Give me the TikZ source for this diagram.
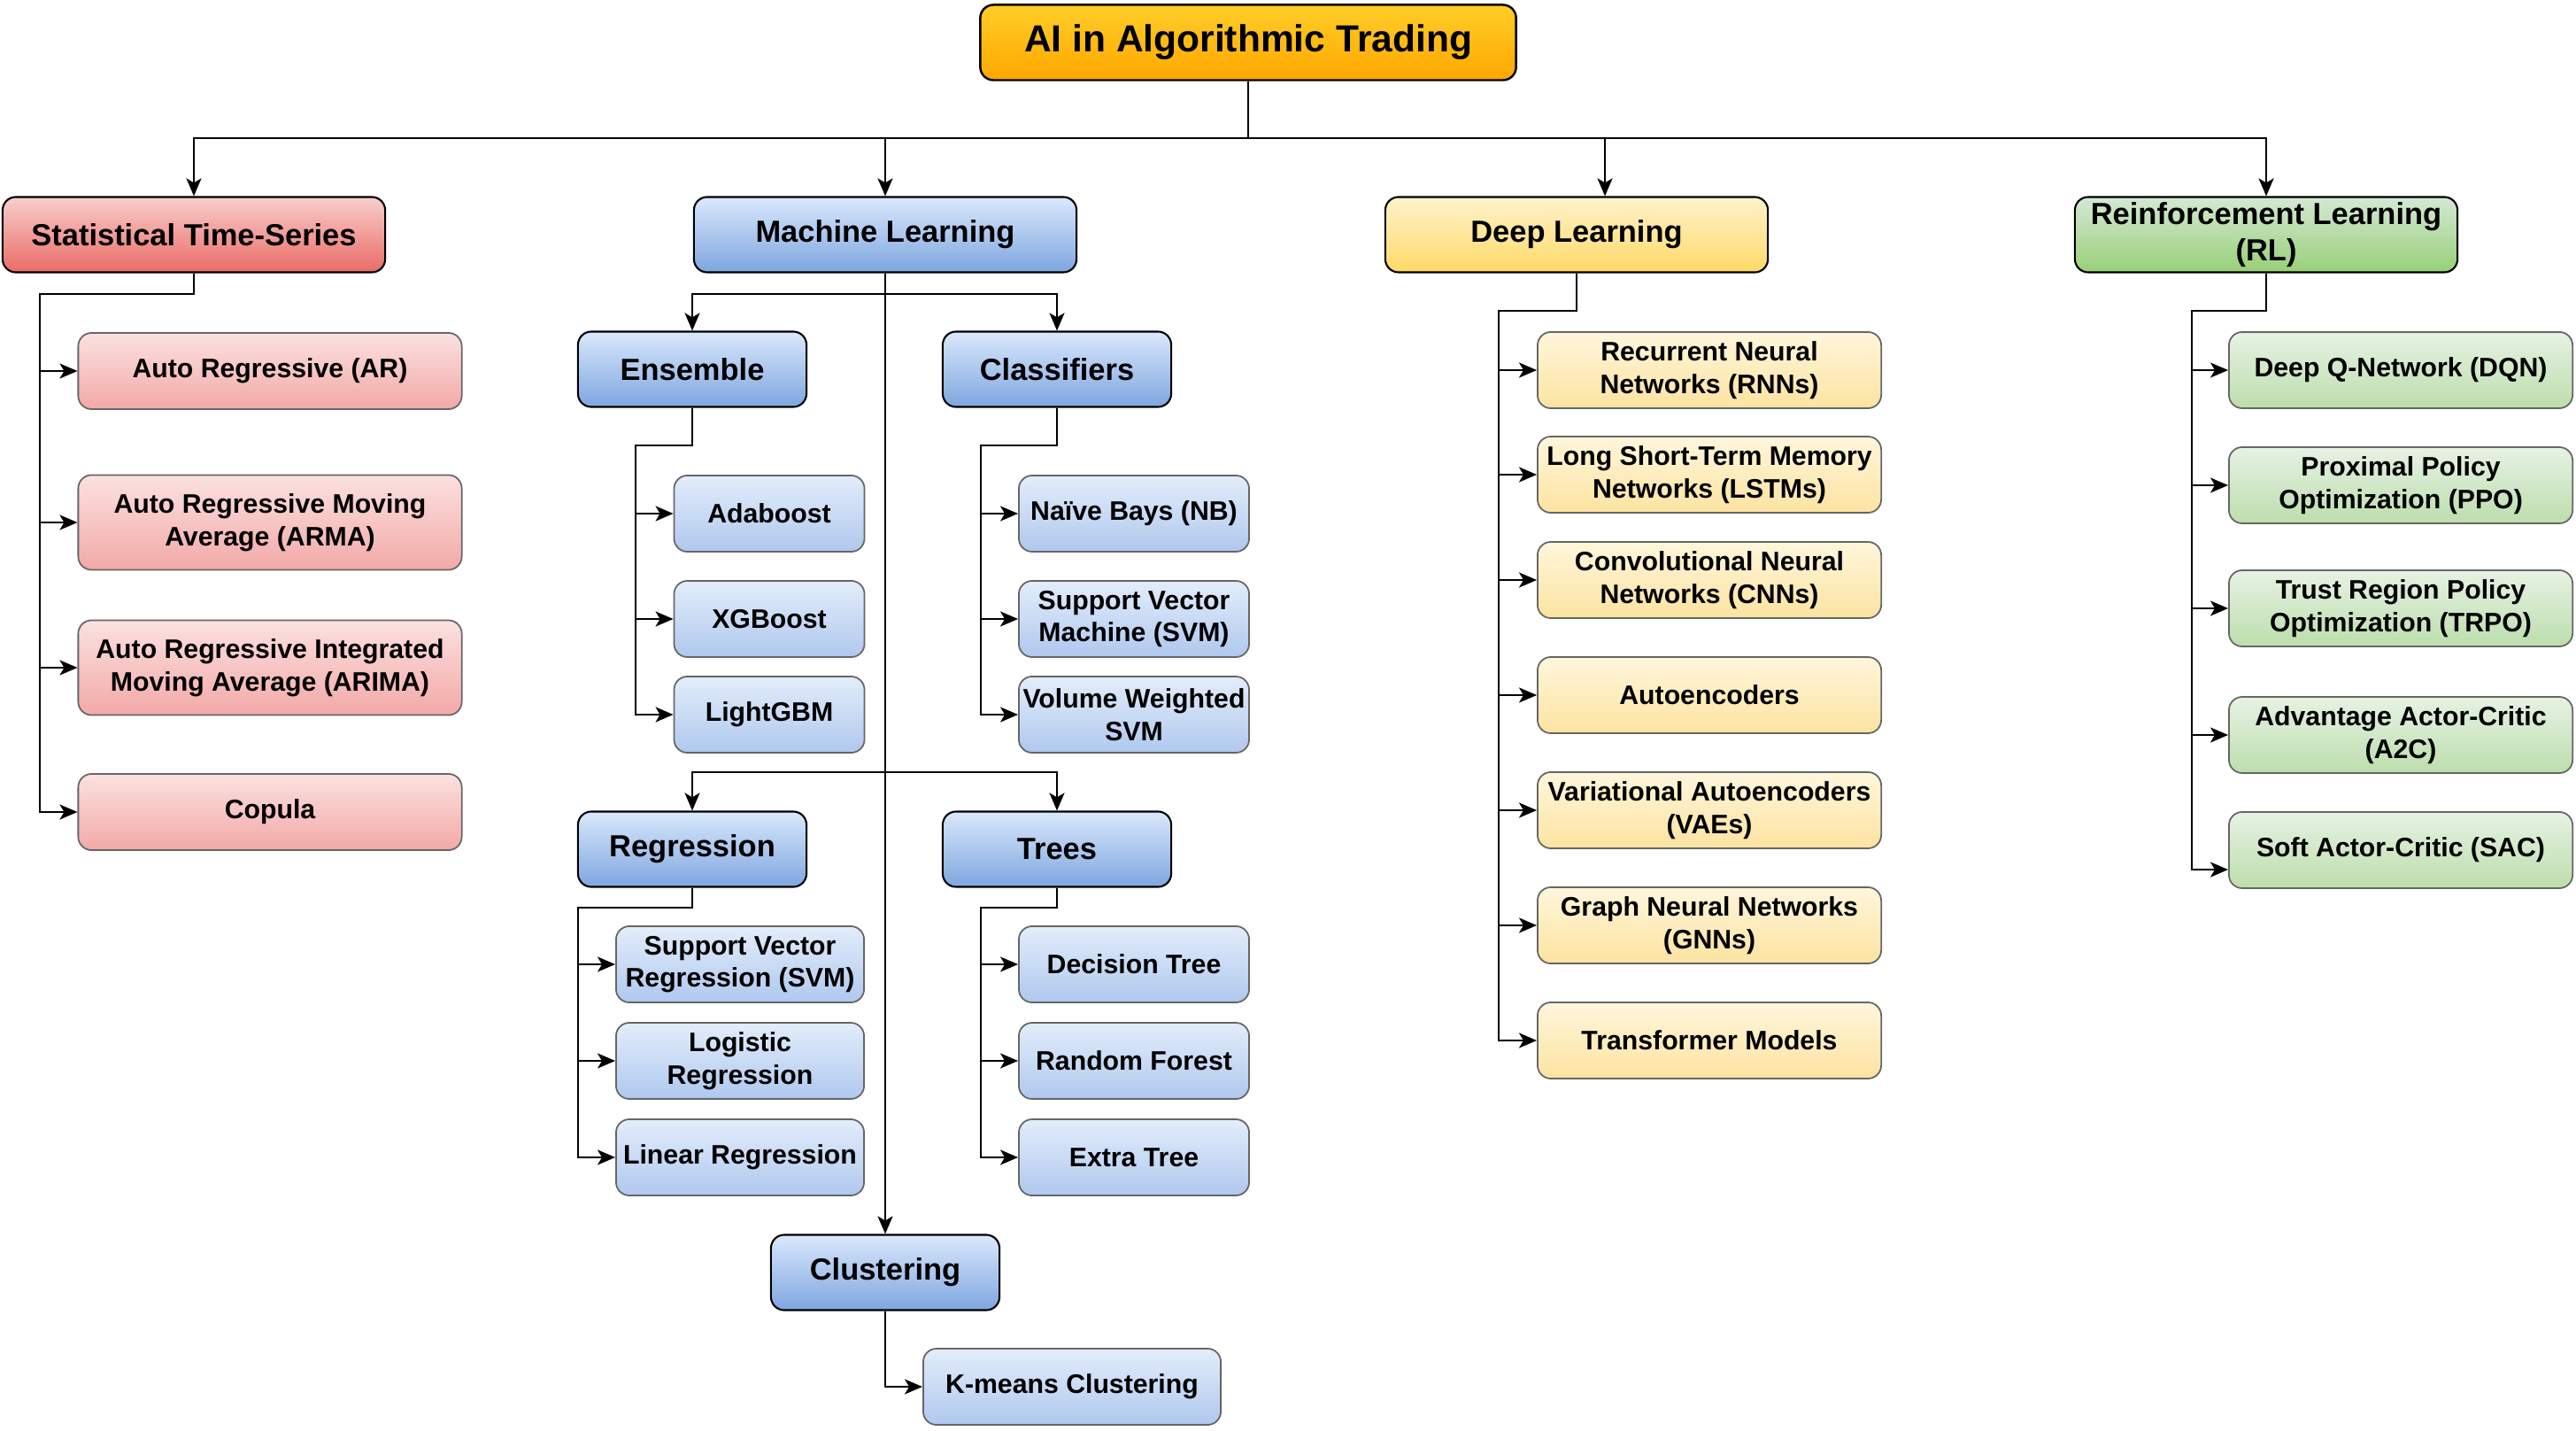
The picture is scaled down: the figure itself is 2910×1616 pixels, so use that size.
\documentclass[tikz,border=0pt]{standalone}
\usepackage{fontspec}
\setmainfont{Liberation Sans}
\usepackage{tikz}
\usetikzlibrary{arrows.meta}
\definecolor{rootTop}{HTML}{FFCD28}
\definecolor{rootBot}{HTML}{FFA800}
\definecolor{statTop}{HTML}{F8CECC}
\definecolor{statBot}{HTML}{EA6B66}
\definecolor{statLeafTop}{HTML}{FBE1E0}
\definecolor{statLeafBot}{HTML}{F2A9A7}
\definecolor{mlTop}{HTML}{DAE8FC}
\definecolor{mlBot}{HTML}{7EA6E0}
\definecolor{mlLeafTop}{HTML}{E3EDFB}
\definecolor{mlLeafBot}{HTML}{AFC8EE}
\definecolor{dlTop}{HTML}{FFF2CC}
\definecolor{dlBot}{HTML}{FFD966}
\definecolor{dlLeafTop}{HTML}{FFF6DC}
\definecolor{dlLeafBot}{HTML}{FCE3A0}
\definecolor{rlTop}{HTML}{D5E8D4}
\definecolor{rlBot}{HTML}{97D077}
\definecolor{rlLeafTop}{HTML}{E6F2E4}
\definecolor{rlLeafBot}{HTML}{BCDEAC}
\tikzstyle{box}=[rectangle,rounded corners=0.15cm,inner sep=1pt,align=center,text centered]
\tikzstyle{root}=[box,minimum width=6.05cm,minimum height=0.85cm,draw=black,line width=0.7pt,
top color=rootTop,bottom color=rootBot,font=\fontsize{12.1}{14}\selectfont\bfseries]
\tikzstyle{head}=[box,minimum width=4.32cm,minimum height=0.85cm,draw=black,line width=0.6pt,
font=\fontsize{9.8}{11.6}\selectfont\bfseries]
\tikzstyle{leaf}=[box,minimum height=0.86cm,draw=black!60,line width=0.5pt,
font=\fontsize{8.6}{10.4}\selectfont\bfseries]
\tikzstyle{stat}=[head,top color=statTop,bottom color=statBot]
\tikzstyle{ml}=[head,top color=mlTop,bottom color=mlBot]
\tikzstyle{mlsub}=[ml,minimum width=2.58cm]
\tikzstyle{dl}=[head,top color=dlTop,bottom color=dlBot]
\tikzstyle{rl}=[head,top color=rlTop,bottom color=rlBot]
\tikzstyle{statleaf}=[leaf,minimum width=4.33cm,top color=statLeafTop,bottom color=statLeafBot]
\tikzstyle{mlleaf}=[leaf,top color=mlLeafTop,bottom color=mlLeafBot]
\tikzstyle{dlleaf}=[leaf,minimum width=3.88cm,top color=dlLeafTop,bottom color=dlLeafBot]
\tikzstyle{rlleaf}=[leaf,minimum width=3.88cm,top color=rlLeafTop,bottom color=rlLeafBot]
\tikzstyle{link}=[line width=0.6pt,draw=black]
\tikzstyle{arrow}=[link,-{Stealth[length=0.2cm,width=0.17cm,inset=0.05cm]}]

\begin{document}
\begin{tikzpicture}[x=0.01cm,y=-0.01cm]
    \useasboundingbox (0,0) rectangle (2910,1616);
        % top level
        \node (title) [root] at (1410,48) {AI in Algorithmic Trading};
        \node (stat) [stat] at (219,265) {Statistical Time-Series};
        \node (ml) [ml] at (1000,265) {Machine Learning};
        \node (dl) [dl] at (1781,265) {Deep Learning};
        \node (rl) [rl] at (2560,265) {Reinforcement Learning\\(RL)};

        % statistical time-series
        \node (ar) [statleaf] at (305,419) {Auto Regressive (AR)};
        \node (arma) [statleaf,minimum height=1.07cm] at (305,590) {Auto Regressive Moving\\Average (ARMA)};
        \node (arima) [statleaf,minimum height=1.07cm] at (305,754) {Auto Regressive Integrated\\Moving Average (ARIMA)};
        \node (copula) [statleaf] at (305,917) {Copula};

        % machine learning
        \node (ens) [mlsub] at (782,417) {Ensemble};
        \node (cls) [mlsub] at (1194,417) {Classifiers};
        \node (ada) [mlleaf,minimum width=2.15cm] at (869,580) {Adaboost};
        \node (xgb) [mlleaf,minimum width=2.15cm] at (869,699) {XGBoost};
        \node (lgbm) [mlleaf,minimum width=2.15cm] at (869,807) {LightGBM};
        \node (nb) [mlleaf,minimum width=2.6cm] at (1281,580) {Naïve Bays (NB)};
        \node (svm) [mlleaf,minimum width=2.6cm] at (1281,699) {Support Vector\\Machine (SVM)};
        \node (vwsvm) [mlleaf,minimum width=2.6cm] at (1281,807) {Volume Weighted\\SVM};
        \node (reg) [mlsub] at (782,959) {Regression};
        \node (trees) [mlsub] at (1194,959) {Trees};
        \node (svr) [mlleaf,minimum width=2.8cm] at (836,1089) {Support Vector\\Regression (SVM)};
        \node (logr) [mlleaf,minimum width=2.8cm] at (836,1198) {Logistic\\Regression};
        \node (linr) [mlleaf,minimum width=2.8cm] at (836,1307) {Linear Regression};
        \node (dt) [mlleaf,minimum width=2.6cm] at (1281,1089) {Decision Tree};
        \node (rf) [mlleaf,minimum width=2.6cm] at (1281,1198) {Random Forest};
        \node (et) [mlleaf,minimum width=2.6cm] at (1281,1307) {Extra Tree};
        \node (clus) [mlsub] at (1000,1437) {Clustering};
        \node (kmeans) [mlleaf,minimum width=3.36cm] at (1211,1566) {K-means Clustering};

        % deep learning
        \node (rnn) [dlleaf] at (1931,418) {Recurrent Neural\\Networks (RNNs)};
        \node (lstm) [dlleaf] at (1931,536) {Long Short-Term Memory\\Networks (LSTMs)};
        \node (cnn) [dlleaf] at (1931,655) {Convolutional Neural\\Networks (CNNs)};
        \node (ae) [dlleaf] at (1931,785) {Autoencoders};
        \node (vae) [dlleaf] at (1931,915) {Variational Autoencoders\\(VAEs)};
        \node (gnn) [dlleaf] at (1931,1045) {Graph Neural Networks\\(GNNs)};
        \node (tf) [dlleaf] at (1931,1175) {Transformer Models};

        % reinforcement learning
        \node (dqn) [rlleaf] at (2712,418) {Deep Q-Network (DQN)};
        \node (ppo) [rlleaf] at (2712,548) {Proximal Policy\\Optimization (PPO)};
        \node (trpo) [rlleaf] at (2712,687) {Trust Region Policy\\Optimization (TRPO)};
        \node (a2c) [rlleaf] at (2712,830) {Advantage Actor-Critic\\(A2C)};
        \node (sac) [rlleaf] at (2712,960) {Soft Actor-Critic (SAC)};

        % bends
        \coordinate (bus) at (1410,156);
        \coordinate (statbend) at (45,332);
        \coordinate (mlbend) at (1000,332);
        \coordinate (mlbendlow) at (1000,872);
        \coordinate (ensbend) at (718,503);
        \coordinate (clsbend) at (1108,503);
        \coordinate (regbend) at (653,1025);
        \coordinate (treebend) at (1108,1025);
        \coordinate (dlbend) at (1693,351);
        \coordinate (rlbend) at (2476,351);

        \draw [arrow] (title.south) -- (bus) -| (stat.north);
        \draw [arrow] (bus) -| (ml.north);
        \draw [arrow] (bus) -| ([xshift=0.32cm]dl.north);
        \draw [arrow] (bus) -| (rl.north);

        \foreach \n in {ar,arma,arima,copula}
            \draw [arrow] (stat.south) |- (statbend) |- (\n.west);

        \draw [arrow] (ml.south) -- (clus.north);
        \draw [arrow] (mlbend) -| (ens.north);
        \draw [arrow] (mlbend) -| (cls.north);
        \draw [arrow] (mlbendlow) -| (reg.north);
        \draw [arrow] (mlbendlow) -| (trees.north);
        \foreach \n in {ada,xgb,lgbm}
            \draw [arrow] (ens.south) |- (ensbend) |- (\n.west);
        \foreach \n in {nb,svm,vwsvm}
            \draw [arrow] (cls.south) |- (clsbend) |- (\n.west);
        \foreach \n in {svr,logr,linr}
            \draw [arrow] (reg.south) |- (regbend) |- (\n.west);
        \foreach \n in {dt,rf,et}
            \draw [arrow] (trees.south) |- (treebend) |- (\n.west);
        \draw [arrow] (clus.south) |- (kmeans.west);

        \foreach \n in {rnn,lstm,cnn,ae,vae,gnn,tf}
            \draw [arrow] (dl.south) |- (dlbend) |- (\n.west);

        \foreach \n in {dqn,ppo,trpo,a2c}
            \draw [arrow] (rl.south) |- (rlbend) |- (\n.west);
        \draw [arrow] (rl.south) |- (rlbend) |- ([yshift=-0.22cm]sac.west);
    \end{tikzpicture}
\end{document}
